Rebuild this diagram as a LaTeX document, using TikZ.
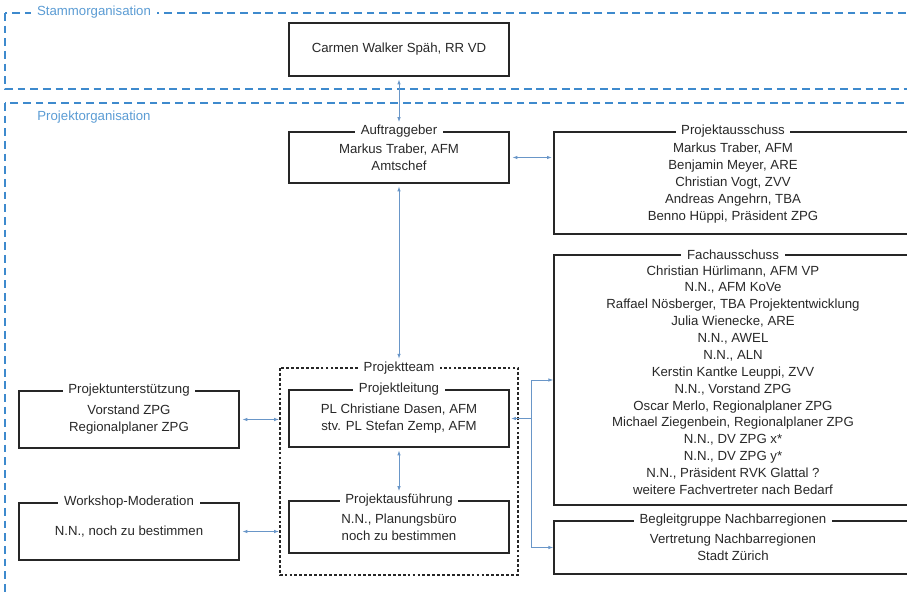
\documentclass[tikz,border=0pt]{standalone}
\usepackage{fontspec}
\setmainfont{Liberation Sans}
\usepackage{tikz}
\definecolor{orgblue}{RGB}{62,138,205}
\definecolor{linkblue}{RGB}{105,150,200}
\definecolor{txtgray}{RGB}{40,40,40}
\usetikzlibrary{arrows.meta}
\pgfdeclarelayer{framelayer}
\pgfdeclarelayer{edgelayer}
\pgfdeclarelayer{nodelayer}
\pgfsetlayers{framelayer,edgelayer,nodelayer,main}
\tikzstyle{box}=[rectangle,draw=black!85,line width=0.9pt,align=center,text=txtgray,font=\fontsize{9.4}{12}\selectfont,inner sep=0pt]
\tikzstyle{title}=[fill=white,text=txtgray,font=\fontsize{9.4}{12}\selectfont,inner xsep=4pt,inner ysep=1pt]
\tikzstyle{orgframe}=[orgblue,line width=1.1pt,dash pattern=on 5.5pt off 3.5pt]
\tikzstyle{orglabel}=[text=orgblue!85,font=\fontsize{9.4}{12}\selectfont,inner xsep=4pt,inner ysep=1pt]
\tikzstyle{teamframe}=[black!85,line width=0.8pt,dash pattern=on 2pt off 1.5pt]
\tikzstyle{link}=[linkblue,line width=0.6pt,{Latex[length=3.5pt,width=2.5pt]}-{Latex[length=3.5pt,width=2.5pt]}]
\tikzstyle{onelink}=[linkblue,line width=0.6pt,-{Latex[length=3.5pt,width=2.5pt]}]

\begin{document}
\begin{tikzpicture}[x=0.025cm,y=-0.025cm]
        \useasboundingbox (0,0) rectangle (907,596);
        \clip (0,0) rectangle (907,596);

        \begin{pgfonlayer}{framelayer}
            \draw [style = orgframe] (5,13) rectangle (930,89);
            \node [style = orglabel, fill=white] (stamm) at (94,12) {Stammorganisation};
            \draw [style = orgframe] (5,103) rectangle (930,640);
            \node [style = orglabel] (projorg) at (94,117) {Projektorganisation};
            \draw [style = teamframe] (280,368) rectangle (518,575);
            \node [style = title] (tteam) at (399,368) {Projektteam};
        \end{pgfonlayer}

        \begin{pgfonlayer}{nodelayer}
            \node [style = box, minimum width=5.5cm, minimum height=1.325cm] (carmen) at (399,49.5) {Carmen Walker Späh, RR VD};

            \node [style = box, minimum width=5.5cm, minimum height=1.275cm] (auftrag) at (399,157.5) {Markus Traber, AFM\\Amtschef};
            \node [style = title] (tauftrag) at (auftrag.north) {Auftraggeber};

            \node [style = box, minimum width=8.95cm, minimum height=2.55cm] (ausschuss) at (733,183) {Markus Traber, AFM\\Benjamin Meyer, ARE\\Christian Vogt, ZVV\\Andreas Angehrn, TBA\\Benno Hüppi, Präsident ZPG};
            \node [style = title] (tausschuss) at (ausschuss.north) {Projektausschuss};

            \node [style = box, minimum width=8.95cm, minimum height=6.25cm] (fach) at (733,380) {Christian Hürlimann, AFM VP\\N.N., AFM KoVe\\Raffael Nösberger, TBA Projektentwicklung\\Julia Wienecke, ARE\\N.N., AWEL\\N.N., ALN\\Kerstin Kantke Leuppi, ZVV\\N.N., Vorstand ZPG\\Oscar Merlo, Regionalplaner ZPG\\Michael Ziegenbein, Regionalplaner ZPG\\N.N., DV ZPG x*\\N.N., DV ZPG y*\\N.N., Präsident RVK Glattal ?\\weitere Fachvertreter nach Bedarf};
            \node [style = title] (tfach) at (fach.north) {Fachausschuss};

            \node [style = box, minimum width=8.95cm, minimum height=1.325cm] (begleit) at (733,547.5) {Vertretung Nachbarregionen\\Stadt Zürich};
            \node [style = title] (tbegleit) at (begleit.north) {Begleitgruppe Nachbarregionen};

            \node [style = box, minimum width=5.5cm, minimum height=1.425cm] (leitung) at (399,418.5) {PL Christiane Dasen, AFM\\stv. PL Stefan Zemp, AFM};
            \node [style = title] (tleitung) at (leitung.north) {Projektleitung};

            \node [style = box, minimum width=5.5cm, minimum height=1.3cm] (ausfuehr) at (399,527) {N.N., Planungsbüro\\noch zu bestimmen};
            \node [style = title] (tausfuehr) at (ausfuehr.north) {Projektausführung};

            \node [style = box, minimum width=5.5cm, minimum height=1.425cm] (unterst) at (129,419.5) {Vorstand ZPG\\Regionalplaner ZPG};
            \node [style = title] (tunterst) at (unterst.north) {Projektunterstützung};

            \node [style = box, minimum width=5.5cm, minimum height=1.425cm] (workshop) at (129,531.5) {N.N., noch zu bestimmen};
            \node [style = title] (tworkshop) at (workshop.north) {Workshop-Moderation};

            \coordinate (fork) at (531,418.5);
            \coordinate (teamw1) at (279,419.5);
            \coordinate (teamw2) at (279,531.5);
        \end{pgfonlayer}

        \begin{pgfonlayer}{edgelayer}
            \draw [style = link, shorten <=2pt, shorten >=1pt] (carmen.south) to (tauftrag.north);
            \draw [style = link, shorten <=2pt, shorten >=1pt] (auftrag.south) to (tteam.north);
            \draw [style = link, shorten <=2pt, shorten >=1pt] (leitung.south) to (tausfuehr.north);
            \draw [style = link, shorten <=2pt, shorten >=1pt] (auftrag.east) to (auftrag.east -| ausschuss.west);
            \draw [style = link, shorten <=2pt] (unterst.east) to (teamw1);
            \draw [style = link, shorten <=2pt] (workshop.east) to (teamw2);

            \draw [style = onelink, shorten >=1pt] (fork) to (leitung.east);
            \draw [style = onelink] (fork) |- (fach.west);
            \draw [style = onelink] (fork) |- (begleit.west);
        \end{pgfonlayer}
    \end{tikzpicture}
\end{document}
